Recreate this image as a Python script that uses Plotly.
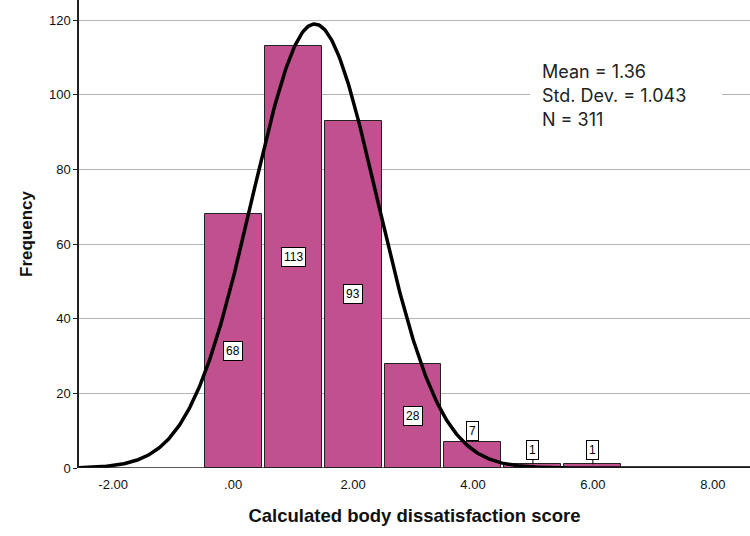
import numpy as np
import plotly.graph_objects as go

bin_centers = [0, 1, 2, 3, 4, 5, 6]
frequencies = [68, 113, 93, 28, 7, 1, 1]
x_tick_vals = [-2, 0, 2, 4, 6, 8]
x_tick_text = ["-2.00", ".00", "2.00", "4.00", "6.00", "8.00"]
y_tick_vals = [0, 20, 40, 60, 80, 100, 120]
mean_val = 1.36
sd_val = 1.043
n_val = 311
bin_width = 1.0

L, T, W, H = 79, 0, 671, 468

fig = go.Figure()
fig.add_trace(go.Bar(
    x=bin_centers, y=frequencies, width=0.95,
    marker=dict(color="#C0508E", line=dict(color="#222222", width=1)),
    hoverinfo="x+y", showlegend=False,
))

# Fitted normal curve from the reported statistics
xc = np.linspace(-2.57, 8.62, 600)
yc = n_val * bin_width / (sd_val * np.sqrt(2 * np.pi)) * np.exp(-0.5 * ((xc - mean_val) / sd_val) ** 2)
fig.add_trace(go.Scatter(x=xc, y=yc, mode="lines", line=dict(color="black", width=3.5),
                         showlegend=False, hoverinfo="skip"))

lab_font = dict(family="Liberation Sans, Arial", size=12, color="black")
label_y = {0: 31.3, 1: 56.5, 2: 46.5, 3: 14}
for xv, f in zip(bin_centers, frequencies):
    if xv in label_y:
        fig.add_annotation(x=xv, y=label_y[xv], text=str(f), showarrow=False, font=lab_font,
                           bgcolor="white", bordercolor="black", borderwidth=1, borderpad=2)
    else:
        fig.add_annotation(x=xv, y=f, text=str(f), showarrow=True, arrowhead=0,
                           arrowwidth=1, arrowcolor="black", ax=0,
                           ay=-11 if f > 2 else -14, font=lab_font,
                           bgcolor="white", bordercolor="black", borderwidth=1, borderpad=2)

# white panel behind statistics text (interrupts gridlines as in the reference)
fig.add_shape(type="rect", xref="paper", yref="paper",
              x0=(530 - L) / W, x1=(722 - L) / W, y0=1 - 132 / H, y1=1 - 56 / H,
              fillcolor="white", line=dict(width=0), layer="above")

stats = [f"Mean = {mean_val:.2f}", f"Std. Dev. = {sd_val:.3f}", f"N = {n_val}"]
for i, s in enumerate(stats):
    fig.add_annotation(xref="paper", yref="paper", x=(540 - L) / W, y=1 - (71 + 24.5 * i) / H,
                       xanchor="left", yanchor="middle", text=s, showarrow=False,
                       font=dict(family="Inter, Open Sans, sans-serif", size=18, color="#222222"))

fig.update_layout(
    width=750, height=536,
    margin=dict(l=L, r=0, t=T, b=68),
    plot_bgcolor="white", paper_bgcolor="white",
    bargap=0,
    xaxis=dict(range=[-2.57, 8.62], tickvals=x_tick_vals, ticktext=x_tick_text,
               showgrid=False, zeroline=False, showline=False,
               ticks="outside", ticklen=4, tickcolor="rgba(0,0,0,0)",
               tickfont=dict(family="Liberation Sans, Arial", size=13, color="#111111"),
               title=dict(text="<b>Calculated body dissatisfaction score</b>", standoff=18,
                          font=dict(family="Liberation Sans, Arial", size=18.5, color="#111111"))),
    yaxis=dict(range=[0, 125.4], tickvals=y_tick_vals, showgrid=True, gridcolor="#b4b4b4",
               gridwidth=1, zeroline=False, showline=True, linecolor="#222222", linewidth=1.5,
               ticks="outside", ticklen=4, tickcolor="#222222",
               tickfont=dict(family="Liberation Sans, Arial", size=13, color="#111111"),
               title=dict(text="<b>Frequency</b>", standoff=12,
                          font=dict(family="Liberation Sans, Arial", size=17, color="#111111"))),
)
fig.add_shape(type="line", xref="paper", yref="y", x0=0, x1=1, y0=0, y1=0,
              line=dict(color="#222222", width=1.5))

fig.write_html("out.html")
